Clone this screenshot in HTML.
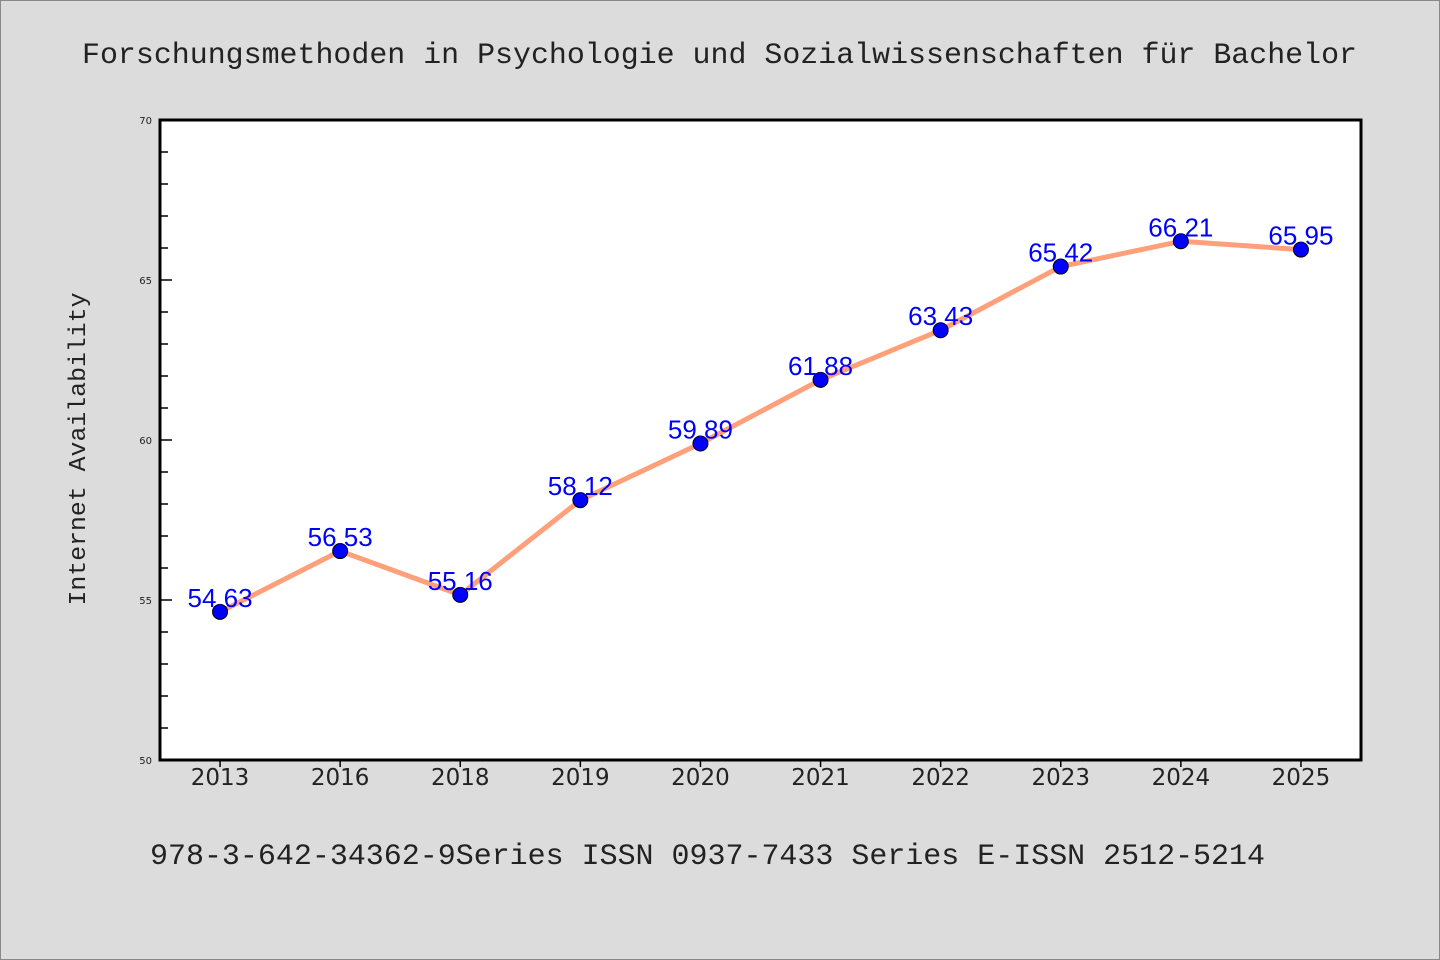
<!DOCTYPE html>
<html><head><meta charset="utf-8"><style>
body{margin:0;background:#dcdcdc}
svg{display:block}
</style></head><body>
<svg id="chart" width="1440" height="960" xmlns="http://www.w3.org/2000/svg">
<rect x="0.5" y="0.5" width="1439" height="959" fill="#dcdcdc" stroke="#888"/>
<text x="82" y="63" font-family="'WenQuanYi Zen Hei Mono','WenQuanYi Zen Hei','Liberation Mono',monospace" font-size="30" fill="#222" textLength="1275" lengthAdjust="spacingAndGlyphs">Forschungsmethoden in Psychologie und Sozialwissenschaften für Bachelor</text>
<rect x="160" y="120" width="1201" height="640" fill="#fff"/>
<g id="yaxis"></g>
<g id="xaxis"></g>
<g id="series"></g>
<rect x="160" y="120" width="1201" height="640" fill="none" stroke="#000" stroke-width="3"/>
<text transform="translate(85,449) rotate(-90)" text-anchor="middle" font-family="'WenQuanYi Zen Hei Mono','WenQuanYi Zen Hei','Liberation Mono',monospace" font-size="24" fill="#222" textLength="313" lengthAdjust="spacingAndGlyphs">Internet Availability</text>
<text x="150" y="864" font-family="'WenQuanYi Zen Hei Mono','WenQuanYi Zen Hei','Liberation Mono',monospace" font-size="30" fill="#222" textLength="1115" lengthAdjust="spacingAndGlyphs">978-3-642-34362-9Series ISSN 0937-7433 Series E-ISSN 2512-5214</text>
</svg>
<script>
const categories=["2013","2016","2018","2019","2020","2021","2022","2023","2024","2025"];
const values=[54.63,56.53,55.16,58.12,59.89,61.88,63.43,65.42,66.21,65.95];
const yTicks=[50,55,60,65,70];
const yMin=50,yMax=70;
const ns="http://www.w3.org/2000/svg";
const L=160,R=1361,T=120,B=760;
const band=(R-L)/categories.length;
const x=i=>L+band*(i+0.5);
const y=v=>B-(v-yMin)/(yMax-yMin)*(B-T);
function mk(tag,attrs,parent){const e=document.createElementNS(ns,tag);for(const k in attrs)e.setAttribute(k,attrs[k]);parent.appendChild(e);return e;}
const ya=document.getElementById('yaxis'),xa=document.getElementById('xaxis'),sg=document.getElementById('series');
for(let v=yMin;v<=yMax;v++){
  const major=yTicks.includes(v);
  const t=mk('line',{x1:L,x2:L+(major?12:8),y1:y(v),y2:y(v),stroke:'#000','stroke-width':1.5},ya);
  
  
}
yTicks.forEach(v=>{
  const t=mk('text',{x:L-8,y:y(v)+4,'text-anchor':'end','font-family':'DejaVu Sans,sans-serif','font-size':10,fill:'#222'},ya);
  t.textContent=v;
  
  
});
categories.forEach((c,i)=>{
  const t=mk('line',{x1:x(i),x2:x(i),y1:B,y2:B+7,stroke:'#000','stroke-width':1.5},xa);
  
  
  const l=mk('text',{x:x(i),y:B+25,'text-anchor':'middle','font-family':'DejaVu Sans,sans-serif','font-size':23,fill:'#222'},xa);
  l.textContent=c;
  
  
});
const line=mk('polyline',{points:values.map((v,i)=>x(i)+','+y(v)).join(' '),fill:'none',stroke:'#ffa07a','stroke-width':5,'stroke-linejoin':'round'},sg);


values.forEach((v,i)=>{
  const p=mk('circle',{cx:x(i),cy:y(v),r:7.5,fill:'#0000ff',stroke:'#000','stroke-width':1},sg);
  
  
});
values.forEach((v,i)=>{
  const t=mk('text',{x:x(i),y:y(v)-5,'text-anchor':'middle','font-family':'Liberation Sans,sans-serif','font-size':26,fill:'#0000ff'},sg);
  t.textContent=v.toFixed(2);
  
  
});
</script>
</body></html>
